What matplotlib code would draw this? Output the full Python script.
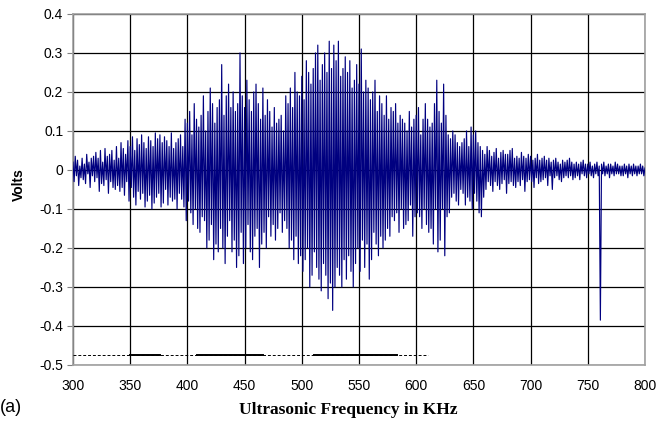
import numpy as np
import matplotlib
matplotlib.use("Agg")
import matplotlib.pyplot as plt

# signal, in millivolts, one value per kHz from 300 to 800
signal_mv = [
    20, -30, 35, -15, 25, -40, 10, -20, 30, -25,
    15, -35, 40, -10, 20, -45, 30, -15, 35, -30,
    45, -20, 30, -55, 50, -35, 20, -40, 55, -25,
    35, -60, 40, -30, 50, -45, 25, -50, 60, -40,
    30, -55, 70, -45, 55, -65, 40, -30, 75, -80,
    60, -45, 85, -70, 50, -90, 80, -55, 65, -75,
    90, -60, 70, -95, 55, -80, 85, -65, 75, -100,
    60, -85, 95, -70, 80, -60, 90, -95, 70, -85,
    85, -50, 75, -90, 60, -70, 95, -80, 55, -75,
    70, -100, 80, -60, 90, -75, 60, -95, 130, -130,
    120, -80, 150, -110, 90, -140, 170, -100, 130, -150,
    110, -160, 140, -120, 190, -130, 100, -200, 150, -180,
    210, -140, 170, -230, 120, -190, 160, -210, 180, -150,
    270, -200, 140, -240, 190, -170, 220, -130, 160, -210,
    200, -180, 150, -250, 170, -220, 300, -160, 190, -240,
    160, -200, 230, -140, 180, -210, 150, -230, 200, -170,
    220, -150, 170, -250, 130, -190, 210, -160, 140, -200,
    180, -120, 150, -170, 110, -140, 160, -180, 120, -150,
    130, -110, 140, -160, 100, -130, 190, -150, 170, -200,
    210, -180, 160, -230, 250, -170, 200, -240, 190, -220,
    240, -260, 180, -230, 280, -200, 250, -300, 220, -270,
    260, -210, 300, -250, 320, -280, 230, -310, 270, -240,
    300, -270, 250, -330, 330, -290, 260, -360, 320, -300,
    280, -250, 330, -270, 240, -300, 260, -230, 290, -280,
    250, -220, 280, -260, 210, -300, 230, -240, 270, -200,
    220, -260, 310, -180, 200, -250, 230, -190, 210, -280,
    180, -230, 200, -160, 230, -190, 150, -220, 190, -170,
    170, -200, 140, -180, 190, -150, 130, -170, 160, -120,
    150, -130, 170, -110, 120, -160, 140, -100, 130, -150,
    120, -140, 100, -130, 150, -90, 110, -170, 130, -120,
    140, -110, 160, -120, 90, -150, 130, -100, 170, -140,
    130, -160, 110, -150, 120, -190, 170, -100, 230, -210,
    150, -180, 120, -100, 220, -220, 140, -120, 90, -110,
    80, -70, 100, -60, 90, -80, 70, -90, 60, -50,
    70, -60, 80, -90, 100, -70, 60, -80, 110, -100,
    90, -60, 100, -80, 70, -110, 60, -120, 50, -70,
    40, -50, 60, -30, 50, -40, 35, -55, 45, -30,
    55, -40, 30, -50, 45, -35, 50, -25, 40, -60,
    40, -35, 50, -30, 55, -40, 30, -45, 35, -30,
    30, -40, 45, -25, 35, -55, 30, -30, 40, -25,
    35, -30, 25, -45, 30, -20, 40, -35, 25, -30,
    30, -25, 35, -20, 25, -40, 30, -15, 20, -50,
    25, -20, 30, -15, 20, -25, 15, -30, 25, -20,
    20, -15, 25, -20, 30, -15, 20, -25, 15, -20,
    20, -15, 15, -25, 20, -10, 25, -15, 15, -20,
    15, -10, 20, -15, 10, -20, 15, -10, 20, -15,
    10, -385, 15, -10, 20, -15, 10, -10, 15, -20,
    15, -10, 10, -15, 20, -10, 15, -10, 10, -15,
    10, -15, 15, -10, 10, -20, 15, -10, 10, -15,
    15, -10, 10, -15, 10, -10, 15, -10, 10, -15,
    5,
]
freq_khz = np.arange(300, 300 + len(signal_mv))
volts = np.array(signal_mv) / 1000.0

# marker bar under the trace
bar_level = -0.475
bar_extent = (300, 610)
bar_segments = [(350, 376), (408, 466), (511, 583)]

x_ticks = [300, 350, 400, 450, 500, 550, 600, 650, 700, 750, 800]
y_ticks = [0.4, 0.3, 0.2, 0.1, 0, -0.1, -0.2, -0.3, -0.4, -0.5]
y_labels = ["0.4", "0.3", "0.2", "0.1", "0", "-0.1", "-0.2", "-0.3", "-0.4", "-0.5"]

plt.rcParams['font.family'] = ['Liberation Sans', 'DejaVu Sans']

fig = plt.figure(figsize=(6.67, 4.34), dpi=100)
ax = fig.add_axes([0.1094, 0.159, 0.8576, 0.809])

ax.plot(freq_khz, volts, color='#000080', linewidth=0.85, zorder=3)

ax.plot(bar_extent, [bar_level, bar_level], color='black', linestyle=(0, (3, 2)),
        linewidth=0.7, zorder=3)
for start, end in bar_segments:
    ax.plot([start, end], [bar_level, bar_level], color='black', linewidth=1.4, zorder=4)

ax.set_xlim(300, 800)
ax.set_ylim(-0.5, 0.4)
ax.set_xticks(x_ticks)
ax.set_yticks(y_ticks)
ax.set_yticklabels(y_labels)
ax.grid(True, color='black', linewidth=0.9, zorder=1)
ax.set_axisbelow(True)

for side in ['top', 'right', 'left', 'bottom']:
    ax.spines[side].set_color('#a0a0a0')
    ax.spines[side].set_linewidth(1.2)

ax.tick_params(axis='x', length=0, pad=10, labelsize=10)
ax.tick_params(axis='y', length=4, color='#808080', labelsize=10, pad=3)

fig.text(0.028, 0.575, 'Volts', rotation=90, fontweight='bold', fontsize=10,
         ha='center', va='center')
fig.text(0.522, 0.055, 'Ultrasonic Frequency in KHz', fontweight='bold', fontsize=12.5,
         family=['Liberation Serif', 'DejaVu Serif'], ha='center', va='center')
fig.text(0.0, 0.06, '(a)', fontsize=13, ha='left', va='center')

fig.savefig('out.png', dpi=100)
